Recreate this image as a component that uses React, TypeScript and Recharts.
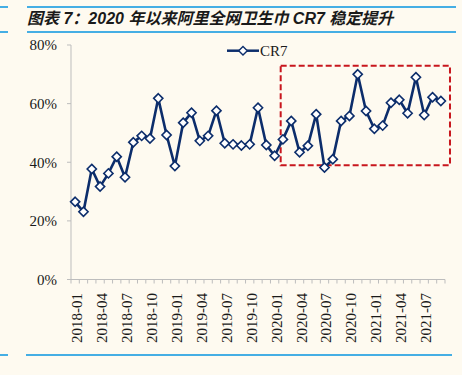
import React from 'react';
import { ComposedChart, Line, XAxis, YAxis, ReferenceArea, Legend } from 'recharts';

const months = [
  '2018-01', '2018-02', '2018-03', '2018-04', '2018-05', '2018-06', '2018-07', '2018-08', '2018-09', '2018-10', '2018-11', '2018-12',
  '2019-01', '2019-02', '2019-03', '2019-04', '2019-05', '2019-06', '2019-07', '2019-08', '2019-09', '2019-10', '2019-11', '2019-12',
  '2020-01', '2020-02', '2020-03', '2020-04', '2020-05', '2020-06', '2020-07', '2020-08', '2020-09', '2020-10', '2020-11', '2020-12',
  '2021-01', '2021-02', '2021-03', '2021-04', '2021-05', '2021-06', '2021-07', '2021-08', '2021-09',
];

const cr7 = [
  26.5, 23.1, 37.7, 31.7, 36.2, 41.9, 34.9, 46.8, 49.0, 48.1, 61.8, 49.3,
  38.7, 53.5, 56.9, 47.3, 49.0, 57.6, 46.5, 46.1, 45.7, 46.1, 58.6, 45.9,
  42.2, 47.8, 54.1, 43.4, 45.6, 56.4, 38.2, 41.0, 54.1, 55.8, 70.0, 57.5,
  51.4, 52.5, 60.3, 61.3, 56.7, 69.0, 56.1, 62.2, 60.9,
];

const tickLabels = [
  '2018-01', '2018-04', '2018-07', '2018-10', '2019-01', '2019-04', '2019-07', '2019-10',
  '2020-01', '2020-04', '2020-07', '2020-10', '2021-01', '2021-04', '2021-07',
];

const yTicks = [0, 20, 40, 60, 80];

// highlighted period box (in axis units)
const boxX = [24.73, 45.1];
const boxY = [39, 72.9];

const SERIES = 'CR7';
const TITLE = '图表 7：2020 年以来阿里全网卫生巾 CR7 稳定提升';

const NAVY = '#0C2D6B';
const AXIS = '#BDBDBD';
const BG = '#FEFAF0';
const BLUE = '#45AEE4';
const RED = '#C8161D';
const SERIF = '"Liberation Serif", "Times New Roman", serif';

const data = months.map((m, i) => ({ idx: i, month: m, CR7: cr7[i] }));
const labelIdx = tickLabels.map((l) => months.indexOf(l));
const boundaries = months.map((_, i) => i - 0.5).concat([months.length - 0.5]);
const xTicks = [...boundaries, ...labelIdx].sort((a, b) => a - b);

const XTick = (props: any) => {
  const { x, y, payload } = props;
  const v = payload.value;
  if (!Number.isInteger(v)) {
    return <line x1={x} x2={x} y1={y - 4} y2={y} stroke={AXIS} strokeWidth={1} />;
  }
  const tx = x + 2;
  const ty = y + 9.5;
  return (
    <text
      x={tx}
      y={ty}
      transform={`rotate(-90 ${tx} ${ty})`}
      textAnchor="end"
      dominantBaseline="central"
      fontFamily={SERIF}
      fontSize={15}
      fill="#1a1a1a"
    >
      {months[v]}
    </text>
  );
};

const Diamond = (props: any) => {
  const { cx, cy, index } = props;
  if (cx == null || cy == null) return <g key={index} />;
  const r = 4.6;
  return (
    <path
      key={index}
      d={`M${cx},${cy - r} L${cx + r},${cy} L${cx},${cy + r} L${cx - r},${cy} Z`}
      fill="#fff"
      stroke={NAVY}
      strokeWidth={1.6}
    />
  );
};

const LegendContent = () => (
  <svg width={72} height={18} style={{ display: 'block', overflow: 'visible' }}>
    <line x1={0} x2={32} y1={8.7} y2={8.7} stroke={NAVY} strokeWidth={2.5} />
    <path d="M16,4.4 L20.3,8.7 L16,13 L11.7,8.7 Z" fill="#fff" stroke={NAVY} strokeWidth={1.4} />
    <text x={33} y={14} fontFamily={SERIF} fontSize={15} fill="#1a1a1a">
      {SERIES}
    </text>
  </svg>
);

export default function App() {
  return (
    <div style={{ position: 'absolute', left: 0, top: 0, width: 462, height: 375, background: BG, overflow: 'hidden' }}>
      <svg width={462} height={375} style={{ position: 'absolute', left: 0, top: 0 }}>
        <line x1={0} x2={8} y1={7} y2={7} stroke={BLUE} strokeWidth={2} />
        <line x1={27} x2={456} y1={7} y2={7} stroke={BLUE} strokeWidth={2} />
        <line x1={0} x2={8} y1={32} y2={32} stroke={BLUE} strokeWidth={2} />
        <line x1={27} x2={456} y1={32} y2={32} stroke={BLUE} strokeWidth={2} />
        <line x1={0} x2={8} y1={355} y2={355} stroke={BLUE} strokeWidth={2} />
        <line x1={26} x2={452} y1={355} y2={355} stroke={BLUE} strokeWidth={2} />
        <text
          x={27}
          y={24}
          fontFamily='"Liberation Sans", Arial, "Noto Sans CJK SC", sans-serif'
          fontSize={16}
          fontWeight="bold"
          fontStyle="italic"
          fill="#1a1a1a"
        >
          {TITLE}
        </text>
      </svg>
      <div style={{ position: 'absolute', left: 0, top: 0 }}>
        <ComposedChart width={462} height={375} data={data} margin={{ top: 45, right: 17, bottom: 0, left: 0 }}>
          <XAxis
            dataKey="idx"
            type="number"
            domain={[-0.5, months.length - 0.5]}
            ticks={xTicks}
            interval={0}
            tick={<XTick />}
            tickLine={false}
            tickSize={4}
            tickMargin={0}
            axisLine={{ stroke: AXIS, strokeWidth: 1 }}
            height={95.5}
            allowDecimals
          />
          <YAxis
            type="number"
            domain={[0, 80]}
            ticks={yTicks}
            interval={0}
            width={71}
            tickSize={4}
            tickMargin={10}
            tickLine={{ stroke: AXIS }}
            axisLine={{ stroke: AXIS, strokeWidth: 1 }}
            tickFormatter={(v: number) => `${v}%`}
            tick={{ fontFamily: SERIF, fontSize: 15, fill: '#1a1a1a' }}
          />
          <Legend
            layout="vertical"
            align="center"
            verticalAlign="middle"
            content={<LegendContent />}
            wrapperStyle={{ position: 'absolute', left: 227, top: 42, width: 72, height: 18 }}
          />
          <ReferenceArea
            x1={boxX[0]}
            x2={boxX[1]}
            y1={boxY[0]}
            y2={boxY[1]}
            ifOverflow="visible"
            fill="none"
            fillOpacity={0}
            stroke={RED}
            strokeWidth={2}
            strokeDasharray="6 3"
          />
          <Line
            type="linear"
            dataKey="CR7"
            name={SERIES}
            stroke={NAVY}
            strokeWidth={2.6}
            dot={<Diamond />}
            activeDot={false}
            isAnimationActive={false}
          />
        </ComposedChart>
      </div>
    </div>
  );
}
